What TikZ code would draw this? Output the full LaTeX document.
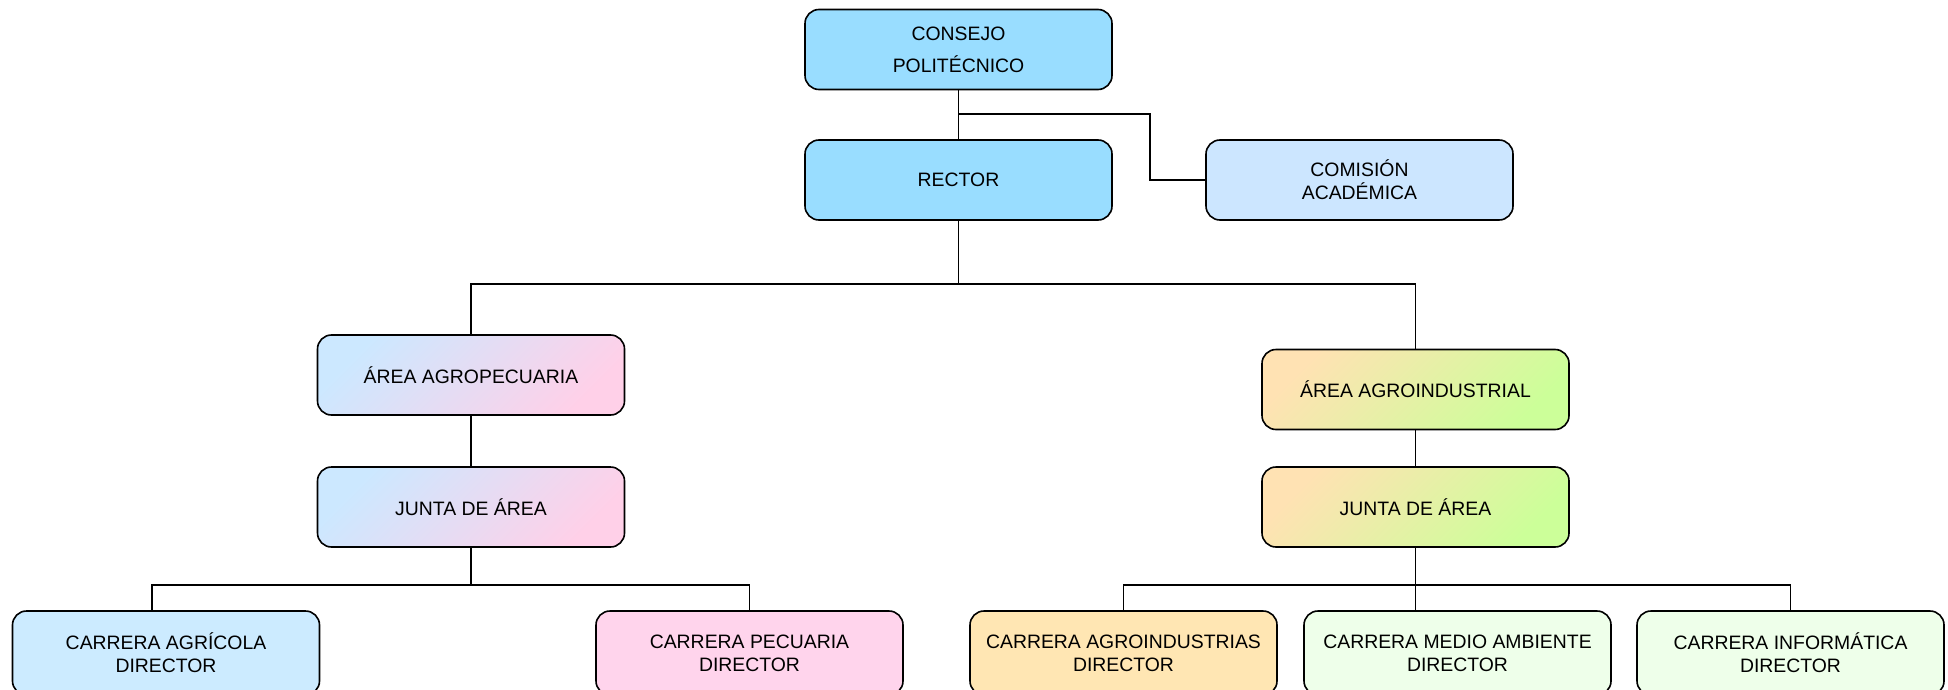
\documentclass[tikz,border=0pt]{standalone}
\usepackage{fontspec}
\setmainfont{Liberation Sans}
\definecolor{cblue}{HTML}{99DDFF}
\definecolor{ccom}{HTML}{CCE6FF}
\definecolor{gblue}{HTML}{CCE8FF}
\definecolor{gpink}{HTML}{FFD0E8}
\definecolor{gpeach}{HTML}{FFE2B3}
\definecolor{ggreen}{HTML}{CCFF99}
\definecolor{cagr}{HTML}{CCEBFF}
\definecolor{cpec}{HTML}{FFD4EC}
\definecolor{cind}{HTML}{FFE6B3}
\definecolor{cmed}{HTML}{EEFFEA}
\begin{document}
\begin{tikzpicture}[x=1pt,y=-1pt,
  orgbox/.style={draw=black, line width=1.6pt, rounded corners=14pt,
    minimum width=307pt, minimum height=80pt, inner sep=0pt, align=center,
    font=\fontsize{19.4}{23}\selectfont},
  shadeL/.style={orgbox, top color=gblue, bottom color=gpink, shading angle=45},
  shadeR/.style={orgbox, top color=gpeach, bottom color=ggreen, shading angle=45},
  conn/.style={draw=black, line width=1.4pt}]
\useasboundingbox (0,0) rectangle (1948,690);
\clip (0,0) rectangle (1948,690);

\node[orgbox, fill=cblue] (cons) at (958.5,49.5) {CONSEJO\\[9pt]POLITÉCNICO};
\node[orgbox, fill=cblue] (rect) at (958.5,180) {RECTOR};
\node[orgbox, fill=ccom] (com) at (1359.5,180) {COMISIÓN\\ACADÉMICA};

\node[shadeL] (agro) at (471,375) {ÁREA AGROPECUARIA};
\node[shadeL] (junL) at (471,507) {JUNTA DE ÁREA};
\node[shadeR] (agroind) at (1415.5,389.5) {ÁREA AGROINDUSTRIAL};
\node[shadeR] (junR) at (1415.5,507) {JUNTA DE ÁREA};

\node[orgbox, fill=cagr, minimum height=84pt] (agric) at (166,653) {CARRERA AGRÍCOLA\\DIRECTOR};
\node[orgbox, fill=cpec, minimum height=84pt] (pec) at (749.5,653) {CARRERA PECUARIA\\DIRECTOR};
\node[orgbox, fill=cind, minimum height=84pt] (inds) at (1123.5,653) {CARRERA AGROINDUSTRIAS\\DIRECTOR};
\node[orgbox, fill=cmed, minimum height=84pt] (med) at (1457.5,653) {CARRERA MEDIO AMBIENTE\\DIRECTOR};
\node[orgbox, fill=cmed, minimum height=84pt] (inf) at (1790.5,653) {CARRERA INFORMÁTICA\\DIRECTOR};

\coordinate (j1) at (958.5,114);
\coordinate (k1) at (1150,114);
\coordinate (h1) at (958.5,284);
\coordinate (h2) at (471,585);
\coordinate (h3) at (1415.5,585);
\coordinate (agtop) at (152,611);

\path[conn] (cons.south) -- (rect.north);
\path[conn] (j1) -- (k1) |- (com.west);
\path[conn] (rect.south) -- (h1);
\path[conn] (agro.north) |- (h1) -| (agroind.north);
\path[conn] (agro.south) -- (junL.north);
\path[conn] (junL.south) -- (h2);
\path[conn] (agtop) |- (h2) -| (pec.north);
\path[conn] (agroind.south) -- (junR.north);
\path[conn] (junR.south) -- (junR.south |- med.north);
\path[conn] (inds.north) |- (h3) -| (inf.north);
\end{tikzpicture}
\end{document}
